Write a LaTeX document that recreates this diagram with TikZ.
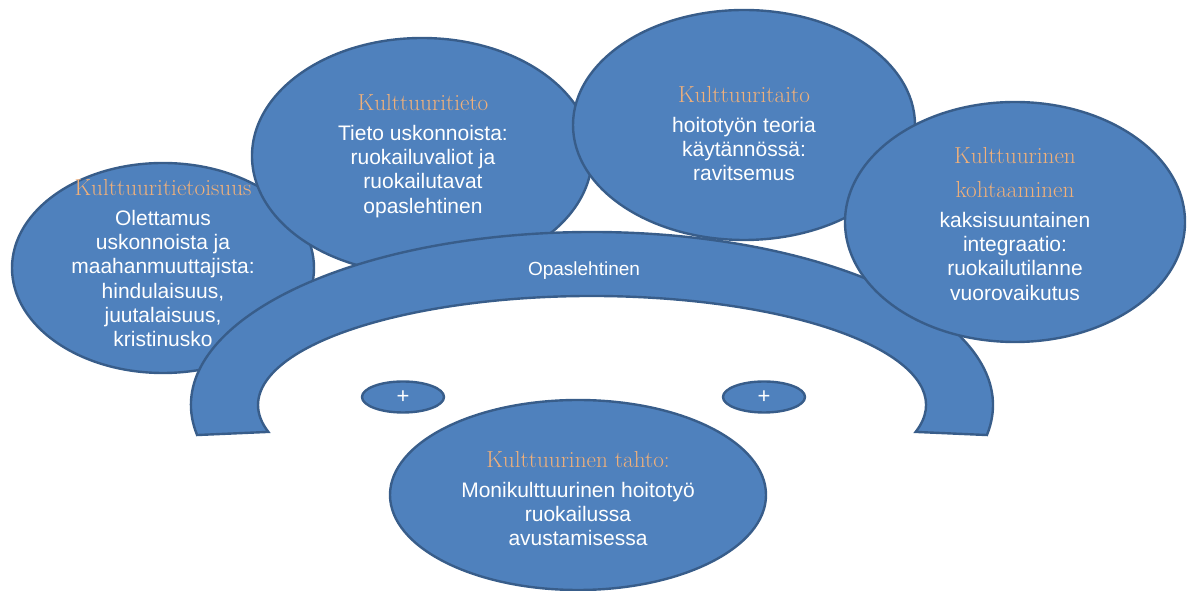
\documentclass[tikz,border=0pt]{standalone}
\usepackage{fontspec}
\setsansfont{Liberation Sans}
\usetikzlibrary{shapes.geometric,calc}
\definecolor{blobfill}{RGB}{79,129,189}
\definecolor{blobline}{RGB}{56,93,138}
\definecolor{otsikko}{RGB}{240,176,122}
\newcommand{\otsikko}[1]{{\fontsize{23.2}{24.3}\selectfont\rmfamily\color{otsikko}#1}}
\begin{document}
\begin{tikzpicture}[x=1pt,y=1pt,
  pinta/.style={draw=blobline,fill=blobfill,line width=2.4pt},
  blob/.style={pinta,ellipse,inner sep=0pt},
  teksti/.style={anchor=north,align=center,inner sep=0pt,text=white,font=\fontsize{21}{24.3}\selectfont\sffamily}]
\useasboundingbox (0,0) rectangle (1195,591);
\node[blob,minimum width=302,minimum height=210] (tietoisuus) at (163,323) {};
\node[teksti] (tietoisuus-t) at (163,412.1) {\otsikko{Kulttuuritietoisuus}\\[5.7pt] Olettamus\\ uskonnoista ja\\ maahanmuuttajista:\\ hindulaisuus,\\ juutalaisuus,\\ kristinusko};
\node[blob,minimum width=340,minimum height=236] (tieto) at (422,435) {};
\node[teksti] (tieto-t) at (423,497.1) {\otsikko{Kulttuuritieto}\\[5.7pt] Tieto uskonnoista:\\ ruokailuvaliot ja\\ ruokailutavat\\ opaslehtinen};
\node[blob,minimum width=342,minimum height=230] (taito) at (744,466) {};
\node[teksti] (taito-t) at (744,505.1) {\otsikko{Kulttuuritaito}\\[5.7pt] hoitotyön teoria\\ käytännössä:\\ ravitsemus};
% kaari
\coordinate (kaari) at (592,186);
\draw[pinta] (kaari) ++(190:401 and 173) arc[start angle=190,end angle=-10,x radius=401,y radius=173]
  -- ($(kaari)+(-14.3:334 and 109)$) arc[start angle=-14.3,end angle=194.3,x radius=334,y radius=109] -- cycle;
\node[text=white,font=\fontsize{19}{19}\selectfont\sffamily] (opas) at (584,320) {Opaslehtinen};
\node[blob,minimum width=340,minimum height=240] (kohtaaminen) at (1015,369) {};
\node[teksti] (kohtaaminen-t) at (1015,444.1) {\otsikko{Kulttuurinen}\\[9.7pt] \otsikko{kohtaaminen}\\[5.7pt] kaksisuuntainen\\ integraatio:\\ ruokailutilanne\\ vuorovaikutus};
% plussat
\node[blob,minimum width=82,minimum height=31,text=white,font=\fontsize{22}{22}\selectfont\sffamily] (plus-v) at (403,194) {+};
\node[blob,minimum width=82,minimum height=31,text=white,font=\fontsize{22}{22}\selectfont\sffamily] (plus-o) at (764,194) {+};
\node[blob,minimum width=376,minimum height=190] (tahto) at (578,96) {};
\node[teksti] (tahto-t) at (578,140.1) {\otsikko{Kulttuurinen tahto:}\\[5.7pt] Monikulttuurinen hoitotyö\\ ruokailussa\\ avustamisessa};
\end{tikzpicture}
\end{document}
